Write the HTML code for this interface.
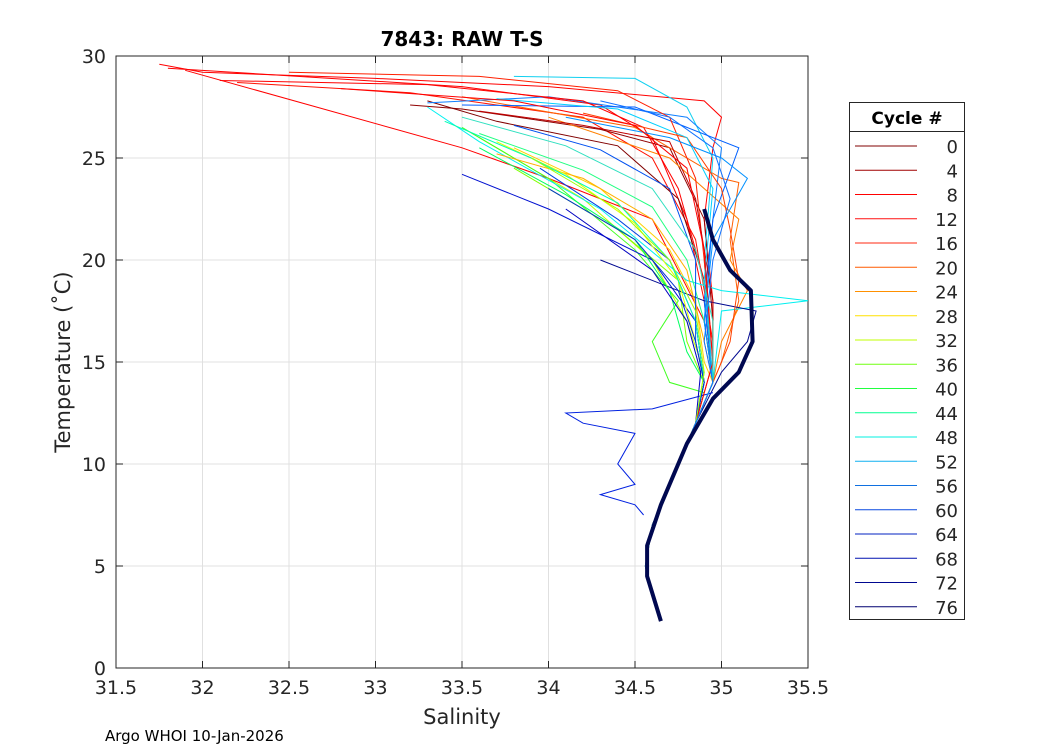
<!DOCTYPE html>
<html><head><meta charset="utf-8"><style>
body{margin:0;background:#fff;font-family:"Liberation Sans",sans-serif}
svg text{font-family:"DejaVu Sans","Liberation Sans",sans-serif}
</style></head><body>
<svg id="c" width="1050" height="750" xmlns="http://www.w3.org/2000/svg">
<rect width="1050" height="750" fill="#fff"/>
</svg>
<script>
const xTicks=[31.5,32,32.5,33,33.5,34,34.5,35,35.5];
const xTickLabels=["31.5","32","32.5","33","33.5","34","34.5","35","35.5"];
const yTicks=[0,5,10,15,20,25,30];
const cycles=["0","4","8","12","16","20","24","28","32","36","40","44","48","52","56","60","64","68","72","76"];
const legendColors=["#800000","#a00000","#ff0000","#ff1010","#ff2a10","#ff5a00","#ff9000","#ffe000","#c0ff00","#70ff10","#20ff40","#00ff90","#00f0e0","#10b0f0","#1070e0","#0848e0","#0020c0","#0010b0","#000890","#000070"];
const profileColors=["#ff0000","#ff0000","#ff1000","#ff0000","#900000","#800000","#ff6000","#ff8000","#ffd000","#c0ff00","#40ff20","#80ff00","#00f0f0","#10d0f0","#1080ff","#0060ff","#0040e0","#0010d0","#000890","#0020e0",
 "#ff2000","#ff0000","#c00000","#ff4000","#ffb000","#e0ff00","#00ff60","#00ffb0","#20ff80","#00d0ff","#0090ff","#0050f0","#0030d0","#0000c0","#ff0000","#a0ff00","#30e0c0","#1070ff"];
const p0=[[31.75,29.6],[32,29.2],[33,28.9],[34,28.5],[34.9,27.8],[35,27],[34.95,25.5],[34.9,22],[34.95,18],[34.95,14]];
const p1=[[31.8,29.4],[33.5,28.5],[34.3,27.6],[34.6,26],[34.8,22],[34.9,18],[34.95,14]];
const p2=[[32.2,28.7],[33.2,28.2],[34.2,27],[34.6,25],[34.85,21],[34.95,16],[34.95,14]];
const p3=[[31.9,29.3],[33.5,25.5],[34,24],[34.6,22],[34.9,17],[34.95,14]];
const p4=[[33.2,27.6],[33.5,27.4],[34.3,26.4],[34.7,25.5],[34.9,22],[34.95,17],[34.95,14]];
const p5=[[33.3,27.8],[33.7,26.8],[34.4,25.6],[34.75,23],[34.9,19],[34.95,14]];
const p6=[[33.5,28],[34.5,26.5],[35,24],[35.1,23.8],[35.05,21],[35.1,18],[35.0,15],[34.95,14]];
const p7=[[34,27],[34.7,25],[35.1,22],[35.05,20],[35.15,18.5],[35.0,16],[34.95,14]];
const p8=[[33.8,25.5],[34.3,23.5],[34.7,20.5],[34.85,18],[34.9,15],[34.95,14]];
const p9=[[33.6,26],[34.2,23],[34.6,20],[34.8,17],[34.9,14.5]];
const p10=[[33.5,26.5],[34,24],[34.5,20.5],[34.75,18],[34.6,16],[34.7,14],[34.9,13.5]];
const p11=[[33.8,24.5],[34.4,21.5],[34.75,19],[34.8,16],[34.9,14]];
const p12=[[33.3,27.5],[33.6,25.8],[34.3,22.5],[34.8,19],[35,18.5],[35.5,18],[35,17.5],[34.95,14]];
const p13=[[33.8,29],[34.5,28.9],[34.8,27.5],[34.95,25],[34.9,20],[34.95,14]];
const p14=[[33.3,27.7],[34,28],[34.8,27],[35,25.5],[34.95,22],[34.9,17],[34.95,14]];
const p15=[[33.5,27.6],[34.5,27.5],[34.8,26.5],[35.1,25.5],[34.95,22],[34.9,18],[34.95,14]];
const p16=[[33.95,24.5],[34.4,22],[34.7,20],[34.85,17],[34.9,14]];
const p17=[[33.5,24.2],[34,22.5],[34.6,20],[34.85,17],[34.9,14]];
const p18=[[34.3,20],[34.9,18],[35.2,17.5],[35.15,16],[35.0,14.5]];
const p19=[[34.95,13.5],[34.6,12.7],[34.1,12.5],[34.2,12],[34.5,11.5],[34.4,10],[34.5,9],[34.3,8.5],[34.5,8],[34.55,7.5]];
const p20=[[32.5,29.2],[33.6,29],[34.4,28.3],[34.7,27],[34.85,24],[34.9,20],[34.95,15]];
const p21=[[32.1,28.8],[33.3,28.6],[34.2,27.8],[34.55,26.5],[34.75,23.5],[34.9,19],[34.95,14]];
const p22=[[33.6,27.3],[34.2,26.6],[34.7,25.8],[34.85,23],[34.95,18],[34.95,14]];
const p23=[[34.2,27.2],[34.8,26],[35,23.5],[35.05,21.5],[35.1,19],[35.05,16],[34.95,14]];
const p24=[[33.7,25.2],[34.2,24],[34.6,22],[34.8,19.5],[34.9,16],[34.95,14]];
const p25=[[33.7,25.8],[34.1,24.2],[34.5,21.8],[34.75,19],[34.85,16],[34.9,14]];
const p26=[[33.6,25.5],[34.1,23.2],[34.5,21],[34.7,18.5],[34.8,15.5],[34.9,14]];
const p27=[[33.4,26.8],[33.9,25],[34.4,22.8],[34.7,20],[34.85,17],[34.9,14]];
const p28=[[33.6,26.2],[34.2,24.4],[34.6,22.6],[34.8,20],[34.9,17],[34.95,14]];
const p29=[[33.7,27.9],[34.4,27.4],[34.8,26],[34.95,23.5],[34.9,19],[34.95,14]];
const p30=[[34.1,27],[34.7,26],[35.0,25],[35.15,24],[34.95,21],[34.9,17],[34.95,14]];
const p31=[[33.8,26.6],[34.3,25.4],[34.7,23.5],[34.85,20],[34.85,16],[34.9,14]];
const p32=[[34.0,23.5],[34.5,21],[34.75,18.5],[34.85,16],[34.9,14]];
const p33=[[34.1,22.5],[34.6,19.5],[34.8,17],[34.88,14.5]];
const p34=[[32.8,28.4],[33.8,27.8],[34.5,26.6],[34.8,24.5],[34.9,20.5],[34.95,15]];
const p35=[[33.9,25],[34.4,22.5],[34.7,20],[34.85,17.5],[34.9,14.5]];
const p36=[[33.5,27],[34.1,25.6],[34.6,23.5],[34.85,20.5],[34.95,17],[34.95,14]];
const p37=[[34.3,27.8],[34.7,27],[34.95,25.5],[35.05,23],[34.95,20],[34.9,16],[34.95,14]];
const profiles=[p0,p1,p2,p3,p4,p5,p6,p7,p8,p9,p10,p11,p12,p13,p14,p15,p16,p17,p18,p19,p20,p21,p22,p23,p24,p25,p26,p27,p28,p29,p30,p31,p32,p33,p34,p35,p36,p37];
const deepTail=[[34.85,12],[34.7,9],[34.6,7],[34.56,5],[34.6,3.5]];
const meanProfile=[[34.9,22.5],[34.95,21],[35.05,19.5],[35.17,18.5],[35.18,16],[35.1,14.5],[34.95,13.2],[34.8,11],[34.65,8],[34.57,6],[34.57,4.5],[34.65,2.3]];

const L=116,R=808,T=56,B=668;
const sx=s=>L+(s-31.5)/4*(R-L);
const sy=t=>B-t/30*(B-T);
const svg=document.getElementById('c');
const NS="http://www.w3.org/2000/svg";
function mk(tag,attrs,parent){const e=document.createElementNS(NS,tag);for(const k in attrs)e.setAttribute(k,attrs[k]);(parent||svg).appendChild(e);return e;}
const pts=a=>a.map(p=>sx(p[0]).toFixed(1)+","+sy(p[1]).toFixed(1)).join(" ");

const axes=mk('g',{});


mk('rect',{x:L,y:T,width:R-L,height:B-T,fill:'#fff'},axes);
xTicks.forEach((v,i)=>{
 const x=sx(v);
 mk('line',{x1:x,y1:T,x2:x,y2:B,stroke:'#e0e0e0','stroke-width':1},axes);
 mk('line',{x1:x,y1:B,x2:x,y2:B-7,stroke:'#262626'},axes);
 mk('line',{x1:x,y1:T,x2:x,y2:T+7,stroke:'#262626'},axes);
 const t=mk('text',{x:x,y:B+26,'text-anchor':'middle','font-size':19,fill:'#262626'},axes);
 t.textContent=xTickLabels[i];
 
 
});
yTicks.forEach(v=>{
 const y=sy(v);
 mk('line',{x1:L,y1:y,x2:R,y2:y,stroke:'#e0e0e0','stroke-width':1},axes);
 mk('line',{x1:L,y1:y,x2:L+7,y2:y,stroke:'#262626'},axes);
 mk('line',{x1:R,y1:y,x2:R-7,y2:y,stroke:'#262626'},axes);
 const t=mk('text',{x:L-10,y:y+7,'text-anchor':'end','font-size':19,fill:'#262626'},axes);
 t.textContent=String(v);
 
 
});

const lines=mk('g',{'clip-path':'url(#clip)'});


const defs=mk('defs',{});const cp=mk('clipPath',{id:'clip'},defs);mk('rect',{x:L,y:T,width:R-L,height:B-T},cp);
profiles.forEach((p,i)=>{
 const full=i===19?p:p.concat(deepTail);
 const pl=mk('polyline',{points:pts(full),fill:'none',stroke:profileColors[i],'stroke-width':1},lines);
 
 
});
const mp=mk('polyline',{points:pts(meanProfile),fill:'none',stroke:'#000850','stroke-width':4,'stroke-linejoin':'round'},lines);



mk('rect',{x:L,y:T,width:R-L,height:B-T,fill:'none',stroke:'#262626','stroke-width':1},axes);

const title=mk('text',{x:462,y:46,'text-anchor':'middle','font-size':20,'font-weight':'bold',fill:'#000'});
title.textContent="7843: RAW T-S";


const xl=mk('text',{x:462,y:724,'text-anchor':'middle','font-size':21,fill:'#262626'});
xl.textContent="Salinity";


const yl=mk('text',{x:0,y:0,'text-anchor':'middle','font-size':21,fill:'#262626',transform:'translate(70,362) rotate(-90)'});
yl.textContent="Temperature (˚C)";


const ft=mk('text',{x:105,y:741,'font-size':15,fill:'#000'});
ft.textContent="Argo WHOI 10-Jan-2026";



const lg=mk('g',{});


mk('rect',{x:849.5,y:102.5,width:115,height:517,fill:'#fff',stroke:'#262626'},lg);
mk('line',{x1:849.5,y1:131.5,x2:964.5,y2:131.5,stroke:'#262626'},lg);
const lt=mk('text',{x:907,y:124,'text-anchor':'middle','font-size':17,'font-weight':'bold',fill:'#000'},lg);
lt.textContent="Cycle #";


cycles.forEach((c,i)=>{
 const y=146+i*24.25;
 const g=mk('g',{},lg);
 
 
 mk('line',{x1:855,y1:y,x2:917,y2:y,stroke:legendColors[i],'stroke-width':1},g);
 const t=mk('text',{x:958,y:y+7,'text-anchor':'end','font-size':18,fill:'#262626'},g);
 t.textContent=c;
});
</script>
</body></html>
